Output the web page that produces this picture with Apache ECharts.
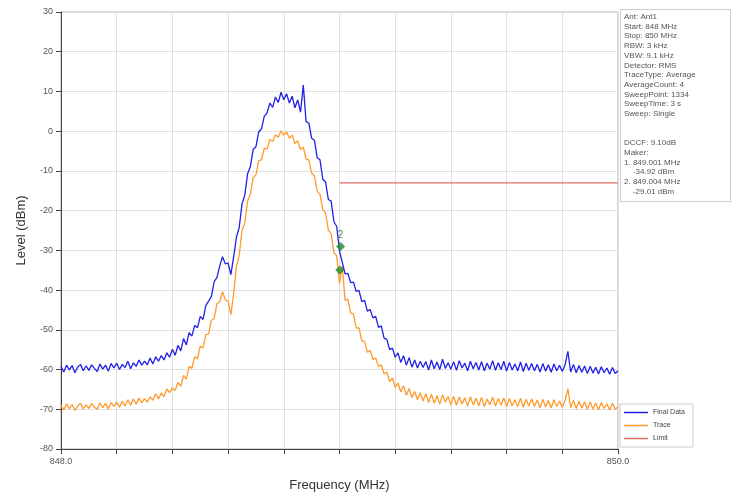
<!DOCTYPE html>
<html>
<head>
<meta charset="utf-8">
<script src="https://cdn.jsdelivr.net/npm/echarts@6/dist/echarts.min.js"></script>
<style>
  html, body { margin: 0; padding: 0; background: #fff; }
  #chart { width: 735px; height: 500px; }
</style>
</head>
<body>
<div id="chart"></div>
<script>
// sweep: 848 -> 850 MHz, one reading every 0.01 MHz
const startFreq = 848
const stepFreq = 0.01

const finalData = [
  -59.2, -60.6, -58.9, -60.1, -59.0, -60.8, -59.4, -58.7, -60.3, -59.1,
  -60.2, -58.8, -59.7, -60.5, -58.6, -59.9, -58.9, -60.4, -58.5, -59.6,
  -58.4, -60.0, -58.7, -59.5, -57.9, -59.8, -58.3, -59.2, -57.6, -58.9,
  -57.9, -58.8, -57.1, -58.6, -56.8, -57.9, -56.5, -57.6, -55.8, -56.9,
  -54.9, -56.4, -53.9, -55.3, -52.2, -53.8, -50.7, -51.6, -48.9, -49.5,
  -46.6, -47.4, -43.9, -42.8, -41.6, -37.9, -36.8, -33.9, -31.6, -33.4,
  -33.2, -36.1, -31.6, -26.7, -24.2, -18.3, -16.1, -10.7, -8.9, -4.6,
  -3.9, -0.2, 0.6, 3.8, 4.6, 7.1, 6.0, 8.6, 7.2, 9.8,
  7.9, 9.4, 7.1, 8.8, 5.9, 7.9, 4.8, 11.6, 2.4, 2.0,
  -1.8, -2.3, -6.7, -7.2, -12.1, -12.8, -17.2, -17.6, -22.8, -24.0,
  -30.2, -33.0, -35.9, -35.8, -38.1, -38.0, -40.3, -40.1, -42.9, -42.6,
  -45.3, -44.9, -47.0, -46.6, -49.4, -49.0, -52.1, -52.4, -55.0, -54.6,
  -56.9, -55.8, -58.2, -56.5, -58.9, -57.0, -59.4, -57.6, -59.6, -57.9,
  -59.5, -58.0, -60.1, -57.6, -59.8, -58.1, -60.0, -57.4, -59.7, -58.3,
  -59.9, -58.0, -60.2, -57.8, -59.6, -58.4, -60.3, -57.9, -59.8, -58.2,
  -60.1, -58.0, -60.3, -58.4, -59.9, -57.8, -60.2, -58.3, -60.0, -57.9,
  -60.4, -58.2, -60.1, -58.6, -60.3, -58.1, -60.5, -58.4, -60.2, -58.5,
  -60.3, -58.7, -60.6, -58.5, -60.4, -58.8, -60.7, -58.6, -60.3, -58.9,
  -60.5, -58.8, -55.4, -60.6, -58.7, -60.8, -59.0, -60.7, -59.1, -61.0,
  -59.2, -60.9, -59.4, -61.1, -59.3, -60.8, -59.6, -61.2, -59.5, -61.0,
  -60.3
]

const traceData = [
  -69.0, -70.2, -68.6, -69.9, -68.8, -70.3, -69.2, -68.5, -69.9, -68.9,
  -69.8, -68.5, -69.5, -70.0, -68.4, -69.6, -68.5, -69.9, -68.3, -69.3,
  -68.2, -69.5, -68.0, -69.2, -67.6, -69.0, -67.4, -68.7, -67.2, -68.4,
  -67.3, -68.2, -66.9, -67.7, -66.1, -67.4, -65.9, -66.8, -64.9, -65.8,
  -64.6, -65.3, -63.2, -64.2, -61.5, -62.4, -59.2, -59.7, -56.8, -57.3,
  -54.1, -54.6, -51.2, -51.0, -47.6, -47.2, -43.4, -43.0, -40.4, -42.5,
  -42.8, -46.2, -40.9, -34.1, -31.2, -25.0, -23.1, -17.6, -15.9, -11.7,
  -11.0, -7.4, -7.2, -4.3, -4.5, -2.1, -2.6, -0.9, -1.5, 0.1,
  -1.0, -0.2, -1.8, -1.0, -3.1, -2.4, -4.6, -4.0, -7.0, -7.2,
  -10.6, -11.3, -15.1, -15.9, -19.8, -20.6, -24.9, -25.8, -30.6, -31.4,
  -38.3, -33.9, -42.6, -42.3, -45.8, -46.0, -49.6, -49.5, -52.8, -52.9,
  -55.6, -55.2, -57.5, -57.1, -59.2, -58.8, -61.1, -60.6, -63.0, -62.2,
  -64.5, -63.4, -65.6, -64.1, -66.5, -64.8, -67.0, -65.5, -67.6, -65.8,
  -67.9, -66.1, -68.3, -66.2, -68.5, -66.6, -68.7, -66.3, -68.2, -66.8,
  -68.9, -66.7, -69.0, -66.9, -68.7, -67.1, -69.2, -66.8, -68.9, -67.2,
  -69.1, -67.0, -69.3, -67.4, -68.9, -66.9, -69.2, -67.3, -69.0, -67.1,
  -69.4, -67.3, -69.1, -67.6, -69.3, -67.2, -69.5, -67.5, -69.2, -67.4,
  -69.3, -67.7, -69.6, -67.5, -69.4, -67.8, -69.7, -67.6, -69.3, -67.9,
  -69.5, -67.8, -64.8, -69.6, -67.7, -69.8, -68.0, -69.7, -68.1, -70.0,
  -68.2, -69.9, -68.4, -70.1, -68.3, -69.8, -68.6, -70.2, -68.5, -70.0,
  -69.4
]

const limitLine = [[849.0, -13], [850.0, -13]]
const markers = [
  { name: '1', freq: 849.001, level: -34.92 },
  { name: '2', freq: 849.004, level: -29.01 }
]

const infoLines = [
  'Ant: Ant1',
  'Start: 848 MHz',
  'Stop: 850 MHz',
  'RBW: 3 kHz',
  'VBW: 9.1 kHz',
  'Detector: RMS',
  'TraceType: Average',
  'AverageCount: 4',
  'SweepPoint: 1334',
  'SweepTime: 3 s',
  'Sweep: Single',
  '',
  '',
  'DCCF: 9.10dB',
  'Maker:',
  '1. 849.001 MHz',
  '    -34.92 dBm',
  '2. 849.004 MHz',
  '    -29.01 dBm'
]

function pairUp (vals) {
  return vals.map((v, i) => [+(startFreq + i * stepFreq).toFixed(2), v])
}

const font = 'Liberation Sans, Arial, sans-serif'
let chart = echarts.init(document.getElementById('chart'))
let option = {
  animation: false,
  backgroundColor: '#fff',
  textStyle: { fontFamily: font },
  grid: { left: 61, right: 117, top: 12, bottom: 51, show: true, borderColor: '#aaa', borderWidth: 1 },
  legend: {
    data: ['Final Data', 'Trace', 'Limit'],
    orient: 'vertical',
    left: 620,
    top: 404,
    icon: 'rect',
    itemWidth: 24,
    itemHeight: 1.5,
    itemGap: 6,
    padding: [5, 8, 5, 4],
    borderColor: '#ccc',
    borderWidth: 1,
    textStyle: { fontSize: 7, color: '#444', fontFamily: font }
  },
  xAxis: {
    type: 'value',
    min: 848,
    max: 850,
    interval: 0.2,
    name: 'Frequency (MHz)',
    nameLocation: 'middle',
    nameGap: 30,
    nameTextStyle: { fontSize: 13, color: '#333' },
    axisLine: { onZero: false, lineStyle: { color: '#444' } },
    axisTick: { show: true, lineStyle: { color: '#444' } },
    axisLabel: {
      fontSize: 9,
      color: '#555',
      showMinLabel: true,
      showMaxLabel: true,
      formatter: v => (Math.abs(v - 848) < 1e-6 || Math.abs(v - 850) < 1e-6) ? v.toFixed(1) : ''
    },
    splitLine: { lineStyle: { color: '#e0e0e0' } }
  },
  yAxis: {
    type: 'value',
    min: -80,
    max: 30,
    interval: 10,
    name: 'Level (dBm)',
    nameLocation: 'middle',
    nameGap: 33,
    nameTextStyle: { fontSize: 13, color: '#333' },
    axisLine: { show: true, onZero: false, lineStyle: { color: '#444' } },
    axisTick: { show: true, lineStyle: { color: '#444' } },
    axisLabel: { fontSize: 9, color: '#555' },
    splitLine: { lineStyle: { color: '#e0e0e0' } }
  },
  graphic: [
    {
      type: 'rect',
      left: 620,
      top: 9,
      shape: { width: 110, height: 192 },
      style: { fill: '#fff', stroke: '#ccc', lineWidth: 1 }
    },
    {
      type: 'text',
      left: 624,
      top: 12,
      style: {
        text: infoLines.join('\n'),
        font: '8px ' + font,
        lineHeight: 9.7,
        fill: '#555'
      }
    }
  ],
  series: [
    {
      name: 'Trace',
      type: 'line',
      data: pairUp(traceData),
      showSymbol: false,
      lineStyle: { width: 1.3, color: '#ff9a2e' },
      itemStyle: { color: '#ff9a2e' }
    },
    {
      name: 'Final Data',
      type: 'line',
      data: pairUp(finalData),
      showSymbol: false,
      lineStyle: { width: 1.3, color: '#2020e6' },
      itemStyle: { color: '#2020e6' }
    },
    {
      name: 'Limit',
      type: 'line',
      data: limitLine,
      showSymbol: false,
      lineStyle: { width: 1.2, color: '#e06a6a' },
      itemStyle: { color: '#e06a6a' }
    },
    {
      name: 'Marker',
      type: 'scatter',
      symbol: 'diamond',
      symbolSize: 9,
      z: 5,
      itemStyle: { color: '#1d8a2a' },
      data: markers.map(m => ({ value: [m.freq, m.level], name: m.name })),
      label: {
        show: true,
        position: 'top',
        distance: 2,
        fontSize: 10,
        color: '#1d6a2a',
        formatter: p => p.name === '2' ? '2' : ''
      }
    }
  ]
}
chart.setOption(option)
</script>
</body>
</html>
